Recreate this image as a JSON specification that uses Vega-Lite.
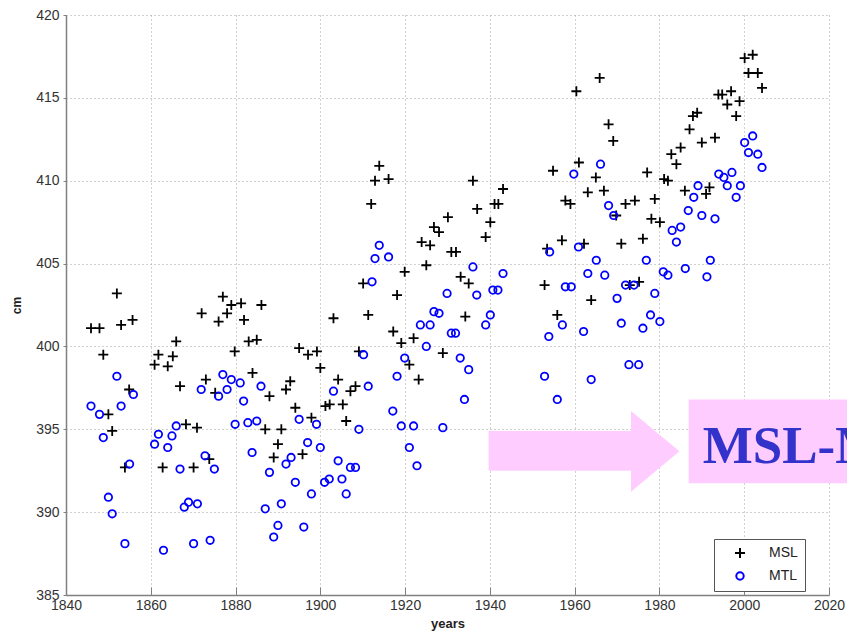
{
  "$schema": "https://vega.github.io/schema/vega-lite/v6.json",
  "width": 763,
  "height": 580,
  "autosize": {"type": "none"},
  "padding": {"left": 66, "top": 15, "right": 18, "bottom": 46},
  "background": "white",
  "config": {
    "view": {"stroke": null},
    "font": "Liberation Sans"
  },
  "datasets": {
    "pts": [
      {"year":1852.0,"cm":403.2,"series":"MSL"},{"year":1845.9,"cm":401.1,"series":"MSL"},{"year":1847.9,"cm":401.1,"series":"MSL"},{"year":1853.0,"cm":401.3,"series":"MSL"},{"year":1855.7,"cm":401.6,"series":"MSL"},{"year":1848.8,"cm":399.5,"series":"MSL"},{"year":1854.9,"cm":397.4,"series":"MSL"},{"year":1850.0,"cm":395.9,"series":"MSL"},{"year":1850.9,"cm":394.9,"series":"MSL"},{"year":1853.9,"cm":392.7,"series":"MSL"},
      {"year":1872.0,"cm":402.0,"series":"MSL"},{"year":1877.0,"cm":403.0,"series":"MSL"},{"year":1879.0,"cm":402.5,"series":"MSL"},{"year":1881.3,"cm":402.6,"series":"MSL"},{"year":1886.1,"cm":402.5,"series":"MSL"},{"year":1878.0,"cm":402.0,"series":"MSL"},{"year":1876.0,"cm":401.5,"series":"MSL"},{"year":1882.0,"cm":401.6,"series":"MSL"},{"year":1866.0,"cm":400.3,"series":"MSL"},{"year":1883.1,"cm":400.3,"series":"MSL"},
      {"year":1885.0,"cm":400.4,"series":"MSL"},{"year":1861.8,"cm":399.5,"series":"MSL"},{"year":1865.2,"cm":399.4,"series":"MSL"},{"year":1860.9,"cm":398.9,"series":"MSL"},{"year":1864.0,"cm":398.8,"series":"MSL"},{"year":1866.9,"cm":397.6,"series":"MSL"},{"year":1873.0,"cm":398.0,"series":"MSL"},{"year":1875.2,"cm":397.2,"series":"MSL"},{"year":1879.8,"cm":399.7,"series":"MSL"},{"year":1884.0,"cm":398.4,"series":"MSL"},
      {"year":1888.0,"cm":397.0,"series":"MSL"},{"year":1868.3,"cm":395.3,"series":"MSL"},{"year":1870.9,"cm":395.1,"series":"MSL"},{"year":1887.0,"cm":395.0,"series":"MSL"},{"year":1890.8,"cm":395.0,"series":"MSL"},{"year":1890.0,"cm":394.1,"series":"MSL"},{"year":1889.0,"cm":393.3,"series":"MSL"},{"year":1862.8,"cm":392.7,"series":"MSL"},{"year":1870.1,"cm":392.7,"series":"MSL"},{"year":1873.8,"cm":393.2,"series":"MSL"},
      {"year":1894.1,"cm":396.3,"series":"MSL"},{"year":1892.9,"cm":397.9,"series":"MSL"},{"year":1891.9,"cm":397.4,"series":"MSL"},{"year":1897.9,"cm":395.7,"series":"MSL"},{"year":1895.8,"cm":393.5,"series":"MSL"},{"year":1895.0,"cm":399.9,"series":"MSL"},{"year":1897.1,"cm":399.5,"series":"MSL"},{"year":1899.2,"cm":399.7,"series":"MSL"},{"year":1900.0,"cm":398.7,"series":"MSL"},{"year":1903.1,"cm":401.7,"series":"MSL"},
      {"year":1904.2,"cm":398.0,"series":"MSL"},{"year":1901.2,"cm":396.4,"series":"MSL"},{"year":1902.2,"cm":396.5,"series":"MSL"},{"year":1905.3,"cm":396.5,"series":"MSL"},{"year":1907.1,"cm":397.3,"series":"MSL"},{"year":1908.3,"cm":397.6,"series":"MSL"},{"year":1906.1,"cm":395.5,"series":"MSL"},{"year":1911.3,"cm":401.9,"series":"MSL"},{"year":1910.1,"cm":403.8,"series":"MSL"},{"year":1919.9,"cm":404.5,"series":"MSL"},
      {"year":1918.1,"cm":403.1,"series":"MSL"},{"year":1917.2,"cm":400.9,"series":"MSL"},{"year":1919.1,"cm":400.2,"series":"MSL"},{"year":1922.0,"cm":400.5,"series":"MSL"},{"year":1921.0,"cm":398.9,"series":"MSL"},{"year":1923.2,"cm":398.0,"series":"MSL"},{"year":1909.1,"cm":399.7,"series":"MSL"},
      {"year":1913.9,"cm":410.9,"series":"MSL"},{"year":1912.9,"cm":410.0,"series":"MSL"},{"year":1916.1,"cm":410.1,"series":"MSL"},{"year":1912.0,"cm":408.6,"series":"MSL"},{"year":1928.9,"cm":399.6,"series":"MSL"},{"year":1923.9,"cm":406.3,"series":"MSL"},{"year":1925.9,"cm":406.1,"series":"MSL"},{"year":1925.0,"cm":404.9,"series":"MSL"},{"year":1926.8,"cm":407.2,"series":"MSL"},{"year":1928.0,"cm":406.9,"series":"MSL"},
      {"year":1930.1,"cm":407.8,"series":"MSL"},{"year":1930.9,"cm":405.7,"series":"MSL"},{"year":1932.0,"cm":405.7,"series":"MSL"},{"year":1933.1,"cm":404.2,"series":"MSL"},{"year":1935.0,"cm":403.8,"series":"MSL"},{"year":1934.2,"cm":401.8,"series":"MSL"},{"year":1936.0,"cm":410.0,"series":"MSL"},{"year":1937.0,"cm":408.3,"series":"MSL"},{"year":1941.1,"cm":408.6,"series":"MSL"},{"year":1942.0,"cm":408.6,"series":"MSL"},
      {"year":1943.1,"cm":409.5,"series":"MSL"},{"year":1940.1,"cm":407.5,"series":"MSL"},{"year":1939.0,"cm":406.6,"series":"MSL"},{"year":1954.9,"cm":410.6,"series":"MSL"},{"year":1961.0,"cm":411.1,"series":"MSL"},{"year":1965.0,"cm":410.2,"series":"MSL"},{"year":1968.0,"cm":413.4,"series":"MSL"},{"year":1969.1,"cm":412.4,"series":"MSL"},{"year":1957.8,"cm":408.8,"series":"MSL"},{"year":1959.0,"cm":408.6,"series":"MSL"},
      {"year":1963.1,"cm":409.3,"series":"MSL"},{"year":1966.9,"cm":409.4,"series":"MSL"},{"year":1953.5,"cm":405.9,"series":"MSL"},{"year":1957.0,"cm":406.4,"series":"MSL"},{"year":1962.2,"cm":406.2,"series":"MSL"},{"year":1952.9,"cm":403.7,"series":"MSL"},{"year":1955.9,"cm":401.9,"series":"MSL"},{"year":1963.9,"cm":402.8,"series":"MSL"},{"year":1969.8,"cm":407.9,"series":"MSL"},{"year":1971.0,"cm":406.2,"series":"MSL"},
      {"year":1972.0,"cm":408.6,"series":"MSL"},{"year":1974.2,"cm":408.8,"series":"MSL"},{"year":1976.1,"cm":406.5,"series":"MSL"},{"year":1977.1,"cm":410.5,"series":"MSL"},{"year":1978.9,"cm":408.9,"series":"MSL"},{"year":1978.1,"cm":407.7,"series":"MSL"},{"year":1980.1,"cm":407.5,"series":"MSL"},{"year":1973.0,"cm":403.7,"series":"MSL"},{"year":1975.2,"cm":403.9,"series":"MSL"},{"year":1982.8,"cm":411.6,"series":"MSL"},
      {"year":1985.0,"cm":412.0,"series":"MSL"},{"year":1984.0,"cm":411.0,"series":"MSL"},{"year":1981.1,"cm":410.1,"series":"MSL"},{"year":1982.0,"cm":410.0,"series":"MSL"},{"year":1986.0,"cm":409.4,"series":"MSL"},
      {"year":2000.1,"cm":417.4,"series":"MSL"},{"year":2002.0,"cm":417.6,"series":"MSL"},{"year":2001.0,"cm":416.5,"series":"MSL"},{"year":2003.2,"cm":416.5,"series":"MSL"},{"year":2004.2,"cm":415.6,"series":"MSL"},{"year":1993.9,"cm":415.2,"series":"MSL"},{"year":1994.8,"cm":415.2,"series":"MSL"},{"year":1996.9,"cm":415.4,"series":"MSL"},{"year":1996.0,"cm":414.6,"series":"MSL"},{"year":1998.9,"cm":414.8,"series":"MSL"},
      {"year":1998.1,"cm":413.9,"series":"MSL"},{"year":1987.9,"cm":413.9,"series":"MSL"},{"year":1988.9,"cm":414.1,"series":"MSL"},{"year":1987.1,"cm":413.1,"series":"MSL"},{"year":1990.0,"cm":412.3,"series":"MSL"},{"year":1993.1,"cm":412.6,"series":"MSL"},{"year":1991.0,"cm":409.2,"series":"MSL"},{"year":1991.8,"cm":409.6,"series":"MSL"},{"year":1960.4,"cm":415.4,"series":"MSL"},{"year":1965.9,"cm":416.2,"series":"MSL"},

      {"year":1852.0,"cm":398.2,"series":"MTL"},{"year":1845.9,"cm":396.4,"series":"MTL"},{"year":1847.9,"cm":395.9,"series":"MTL"},{"year":1853.0,"cm":396.4,"series":"MTL"},{"year":1855.9,"cm":397.1,"series":"MTL"},{"year":1848.8,"cm":394.5,"series":"MTL"},{"year":1855.0,"cm":392.9,"series":"MTL"},{"year":1850.0,"cm":390.9,"series":"MTL"},{"year":1850.9,"cm":389.9,"series":"MTL"},{"year":1853.9,"cm":388.1,"series":"MTL"},
      {"year":1861.8,"cm":394.7,"series":"MTL"},{"year":1860.9,"cm":394.1,"series":"MTL"},{"year":1864.0,"cm":393.9,"series":"MTL"},{"year":1865.0,"cm":394.6,"series":"MTL"},{"year":1866.0,"cm":395.2,"series":"MTL"},{"year":1866.9,"cm":392.6,"series":"MTL"},{"year":1863.0,"cm":387.7,"series":"MTL"},{"year":1867.9,"cm":390.3,"series":"MTL"},{"year":1868.9,"cm":390.6,"series":"MTL"},{"year":1871.0,"cm":390.5,"series":"MTL"},
      {"year":1870.1,"cm":388.1,"series":"MTL"},{"year":1874.0,"cm":388.3,"series":"MTL"},{"year":1872.8,"cm":393.4,"series":"MTL"},{"year":1875.0,"cm":392.6,"series":"MTL"},{"year":1871.9,"cm":397.4,"series":"MTL"},{"year":1876.0,"cm":397.0,"series":"MTL"},{"year":1877.0,"cm":398.3,"series":"MTL"},{"year":1878.0,"cm":397.4,"series":"MTL"},{"year":1879.0,"cm":398.0,"series":"MTL"},{"year":1881.1,"cm":397.8,"series":"MTL"},
      {"year":1881.9,"cm":396.7,"series":"MTL"},{"year":1879.9,"cm":395.3,"series":"MTL"},{"year":1882.9,"cm":395.4,"series":"MTL"},{"year":1885.0,"cm":395.5,"series":"MTL"},{"year":1886.0,"cm":397.6,"series":"MTL"},{"year":1883.9,"cm":393.6,"series":"MTL"},{"year":1888.0,"cm":392.4,"series":"MTL"},{"year":1887.0,"cm":390.2,"series":"MTL"},{"year":1890.8,"cm":390.5,"series":"MTL"},{"year":1890.0,"cm":389.2,"series":"MTL"},
      {"year":1889.0,"cm":388.5,"series":"MTL"},{"year":1891.9,"cm":392.9,"series":"MTL"},{"year":1893.1,"cm":393.3,"series":"MTL"},{"year":1894.1,"cm":391.8,"series":"MTL"},{"year":1895.0,"cm":395.6,"series":"MTL"},{"year":1897.0,"cm":394.2,"series":"MTL"},{"year":1899.1,"cm":395.3,"series":"MTL"},{"year":1900.0,"cm":393.9,"series":"MTL"},{"year":1897.9,"cm":391.1,"series":"MTL"},{"year":1896.1,"cm":389.1,"series":"MTL"},
      {"year":1901.0,"cm":391.8,"series":"MTL"},{"year":1902.1,"cm":392.0,"series":"MTL"},{"year":1904.2,"cm":393.1,"series":"MTL"},{"year":1905.1,"cm":392.0,"series":"MTL"},{"year":1906.1,"cm":391.1,"series":"MTL"},{"year":1907.1,"cm":392.7,"series":"MTL"},{"year":1908.3,"cm":392.7,"series":"MTL"},{"year":1909.1,"cm":395.0,"series":"MTL"},{"year":1903.1,"cm":397.3,"series":"MTL"},{"year":1911.3,"cm":397.6,"series":"MTL"},
      {"year":1910.2,"cm":399.5,"series":"MTL"},{"year":1912.2,"cm":403.9,"series":"MTL"},{"year":1923.6,"cm":401.3,"series":"MTL"},{"year":1917.1,"cm":396.1,"series":"MTL"},{"year":1919.1,"cm":395.2,"series":"MTL"},{"year":1922.0,"cm":395.2,"series":"MTL"},{"year":1921.0,"cm":393.9,"series":"MTL"},{"year":1922.8,"cm":392.8,"series":"MTL"},{"year":1919.9,"cm":399.3,"series":"MTL"},{"year":1918.1,"cm":398.2,"series":"MTL"},
      {"year":1913.9,"cm":406.1,"series":"MTL"},{"year":1912.9,"cm":405.3,"series":"MTL"},{"year":1916.1,"cm":405.4,"series":"MTL"},{"year":1928.9,"cm":395.1,"series":"MTL"},{"year":1925.0,"cm":400.0,"series":"MTL"},{"year":1925.9,"cm":401.3,"series":"MTL"},{"year":1926.8,"cm":402.1,"series":"MTL"},{"year":1928.0,"cm":402.0,"series":"MTL"},{"year":1929.9,"cm":403.2,"series":"MTL"},{"year":1930.9,"cm":400.8,"series":"MTL"},
      {"year":1931.9,"cm":400.8,"series":"MTL"},{"year":1933.0,"cm":399.3,"series":"MTL"},{"year":1935.0,"cm":398.6,"series":"MTL"},{"year":1934.0,"cm":396.8,"series":"MTL"},{"year":1936.0,"cm":404.8,"series":"MTL"},{"year":1936.9,"cm":403.1,"series":"MTL"},{"year":1939.0,"cm":401.3,"series":"MTL"},{"year":1940.1,"cm":401.9,"series":"MTL"},{"year":1940.7,"cm":403.4,"series":"MTL"},{"year":1941.9,"cm":403.4,"series":"MTL"},
      {"year":1943.1,"cm":404.4,"series":"MTL"},{"year":1954.1,"cm":405.7,"series":"MTL"},{"year":1953.9,"cm":400.6,"series":"MTL"},{"year":1952.9,"cm":398.2,"series":"MTL"},{"year":1955.9,"cm":396.8,"series":"MTL"},{"year":1957.1,"cm":401.3,"series":"MTL"},{"year":1957.8,"cm":403.6,"series":"MTL"},{"year":1959.2,"cm":403.6,"series":"MTL"},{"year":1960.9,"cm":406.0,"series":"MTL"},{"year":1959.8,"cm":410.4,"series":"MTL"},
      {"year":1966.1,"cm":411.0,"series":"MTL"},{"year":1962.1,"cm":400.9,"series":"MTL"},{"year":1963.1,"cm":404.4,"series":"MTL"},{"year":1965.1,"cm":405.2,"series":"MTL"},{"year":1967.1,"cm":404.3,"series":"MTL"},{"year":1963.9,"cm":398.0,"series":"MTL"},{"year":1968.0,"cm":408.5,"series":"MTL"},{"year":1969.2,"cm":407.9,"series":"MTL"},{"year":1970.0,"cm":402.9,"series":"MTL"},{"year":1971.0,"cm":401.4,"series":"MTL"},
      {"year":1972.0,"cm":403.7,"series":"MTL"},{"year":1974.0,"cm":403.7,"series":"MTL"},{"year":1972.8,"cm":398.9,"series":"MTL"},{"year":1975.1,"cm":398.9,"series":"MTL"},{"year":1976.1,"cm":401.1,"series":"MTL"},{"year":1977.9,"cm":401.9,"series":"MTL"},{"year":1980.1,"cm":401.5,"series":"MTL"},{"year":1978.9,"cm":403.2,"series":"MTL"},{"year":1976.9,"cm":405.2,"series":"MTL"},{"year":1980.9,"cm":404.5,"series":"MTL"},
      {"year":1982.0,"cm":404.3,"series":"MTL"},{"year":1983.0,"cm":407.0,"series":"MTL"},{"year":1985.0,"cm":407.2,"series":"MTL"},{"year":1984.0,"cm":406.3,"series":"MTL"},{"year":1986.1,"cm":404.7,"series":"MTL"},{"year":1986.8,"cm":408.2,"series":"MTL"},
      {"year":2000.1,"cm":412.3,"series":"MTL"},{"year":2002.0,"cm":412.7,"series":"MTL"},{"year":2001.0,"cm":411.7,"series":"MTL"},{"year":2003.2,"cm":411.6,"series":"MTL"},{"year":2004.2,"cm":410.8,"series":"MTL"},{"year":1994.0,"cm":410.4,"series":"MTL"},{"year":1995.2,"cm":410.2,"series":"MTL"},{"year":1997.1,"cm":410.5,"series":"MTL"},{"year":1996.0,"cm":409.7,"series":"MTL"},{"year":1999.1,"cm":409.7,"series":"MTL"},
      {"year":1998.1,"cm":409.0,"series":"MTL"},{"year":1989.1,"cm":409.7,"series":"MTL"},{"year":1988.1,"cm":409.0,"series":"MTL"},{"year":1990.0,"cm":407.9,"series":"MTL"},{"year":1993.1,"cm":407.7,"series":"MTL"},{"year":1992.0,"cm":405.2,"series":"MTL"},{"year":1991.2,"cm":404.2,"series":"MTL"}
    ]
  },
  "layer": [
    {
      "data": {"name": "pts"},
      "mark": {"type": "point", "filled": false, "strokeWidth": 1.8, "opacity": 1, "clip": false},
      "encoding": {
        "x": {
          "field": "year", "type": "quantitative",
          "scale": {"domain": [1840, 2020], "nice": false, "zero": false},
          "axis": {
            "values": [1840, 1860, 1880, 1900, 1920, 1940, 1960, 1980, 2000, 2020],
            "format": "d",
            "title": "years",
            "titleFont": "Liberation Sans", "titleFontSize": 13, "titleFontWeight": "bold", "titleColor": "#222", "titlePadding": 5,
            "labelFont": "Liberation Sans", "labelFontSize": 14, "labelColor": "#333", "labelPadding": 11,
            "labelFlush": false, "labelOverlap": false,
            "grid": true, "gridDash": [1, 3], "gridColor": "#a0a0a0", "gridWidth": 1,
            "domainColor": "#808080", "domainWidth": 1.5,
            "ticks": true, "tickSize": -8, "tickColor": "#808080"
          }
        },
        "y": {
          "field": "cm", "type": "quantitative",
          "scale": {"domain": [385, 420], "nice": false, "zero": false},
          "axis": {
            "values": [385, 390, 395, 400, 405, 410, 415, 420],
            "title": "cm",
            "titleFont": "Liberation Sans", "titleFontSize": 12, "titleFontWeight": "bold", "titleColor": "#222", "titlePadding": 12,
            "labelFont": "Liberation Sans", "labelFontSize": 14, "labelColor": "#333", "labelPadding": 4,
            "labelFlush": false, "labelOverlap": false,
            "grid": true, "gridDash": [1, 3], "gridColor": "#a0a0a0", "gridWidth": 1,
            "domainColor": "#808080", "domainWidth": 1.5,
            "ticks": true, "tickSize": 3, "tickColor": "#808080"
          }
        },
        "color": {
          "field": "series", "type": "nominal",
          "scale": {"domain": ["MSL", "MTL"], "range": ["#000000", "#0000ff"]},
          "legend": {
            "title": null, "orient": "none", "legendX": 648, "legendY": 524,
            "strokeColor": "#555", "fillColor": "#ffffff", "padding": 7,
            "labelFont": "Liberation Sans", "labelFontSize": 14, "labelColor": "#222",
            "symbolOffset": 12, "labelOffset": 22, "rowPadding": 6, "symbolStrokeWidth": 2
          }
        },
        "shape": {
          "field": "series", "type": "nominal",
          "scale": {"domain": ["MSL", "MTL"], "range": ["M-1,0L1,0M0,-1L0,1", "circle"]}
        },
        "size": {
          "field": "series", "type": "nominal",
          "scale": {"domain": ["MSL", "MTL"], "range": [100, 55]}
        }
      }
    },
    {
      "data": {"values": [{}]},
      "mark": {"type": "rect", "color": "#ffccff", "clip": false},
      "encoding": {
        "x": {"datum": 1939.7, "type": "quantitative"},
        "x2": {"datum": 1973.4},
        "y": {"datum": 394.9, "type": "quantitative"},
        "y2": {"datum": 392.5}
      }
    },
    {
      "data": {"values": [{}]},
      "mark": {"type": "point", "shape": "M-0.6,-1L0.6,0L-0.6,1Z", "size": 6500, "filled": true, "color": "#ffccff", "opacity": 1, "clip": false},
      "encoding": {
        "x": {"datum": 1979.0, "type": "quantitative"},
        "y": {"datum": 393.67, "type": "quantitative"}
      }
    },
    {
      "data": {"values": [{}]},
      "mark": {"type": "rect", "color": "#ffccff", "clip": false},
      "encoding": {
        "x": {"datum": 1986.9, "type": "quantitative"},
        "x2": {"datum": 2026},
        "y": {"datum": 396.8, "type": "quantitative"},
        "y2": {"datum": 391.75}
      }
    },
    {
      "data": {"values": [{}]},
      "mark": {"type": "text", "text": "MSL-MTL", "font": "Liberation Serif", "fontWeight": "bold", "fontSize": 53, "color": "#3333cc", "align": "left", "baseline": "alphabetic", "clip": false},
      "encoding": {
        "x": {"datum": 1990.2, "type": "quantitative"},
        "y": {"datum": 392.96, "type": "quantitative"}
      }
    }
  ]
}
